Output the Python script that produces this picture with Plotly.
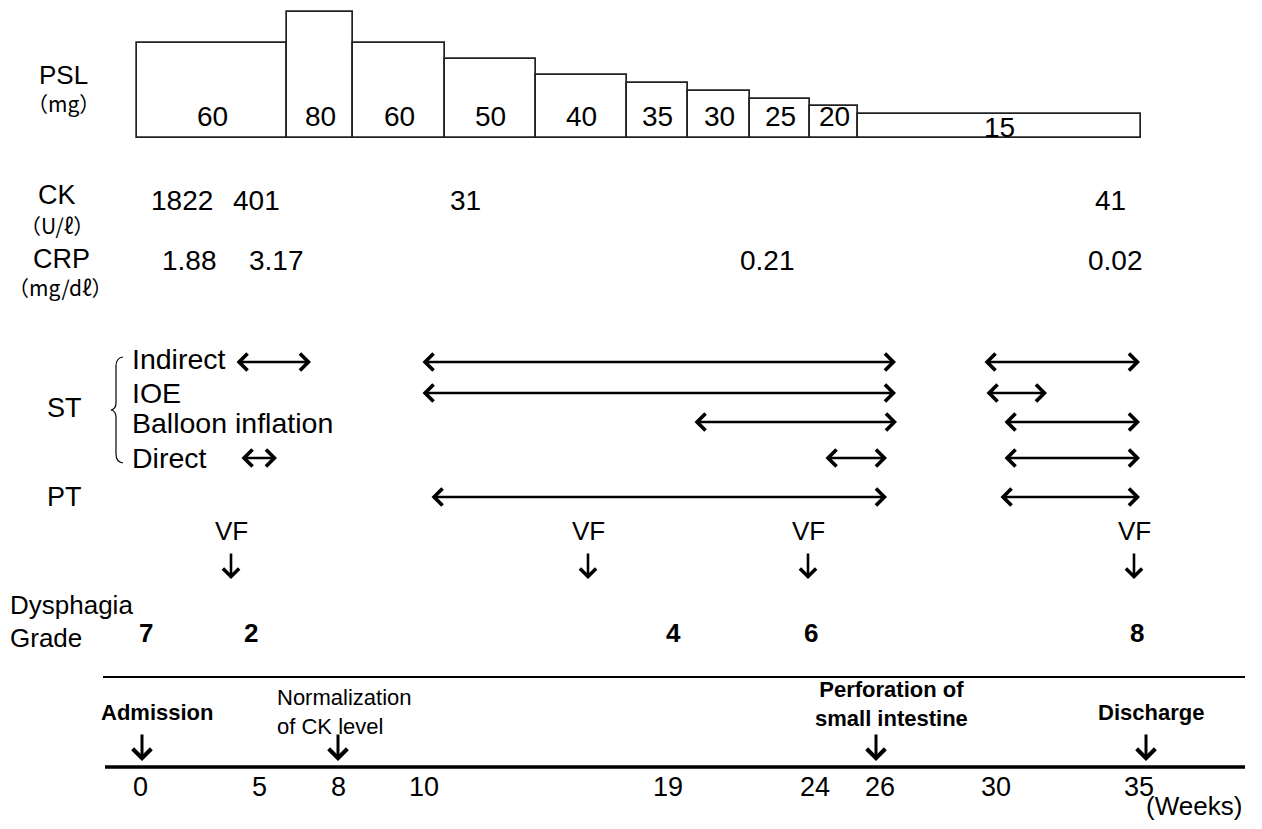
import plotly.graph_objects as go

# ---------------- data ----------------
# PSL doses and the timeline edges (diagram time axis units) of each dose period
psl_dose = [60, 80, 60, 50, 40, 35, 30, 25, 20, 15]
psl_edges = [137, 287, 353, 445, 536, 627, 688, 750, 810, 858, 1141]

ck_values = ["1822", "401", "31", "41"]
ck_time = [182, 256, 465, 1110]
crp_values = ["1.88", "3.17", "0.21", "0.02"]
crp_time = [189, 276, 767, 1115]

st_rows = ["Indirect", "IOE", "Balloon inflation", "Direct"]
indirect_periods = [(235, 311), (421, 896), (983, 1140)]
ioe_periods = [(421, 896), (985, 1047)]
balloon_periods = [(693, 897), (1003, 1140)]
direct_periods = [(240, 277), (824, 887), (1003, 1140)]
pt_periods = [(430, 887), (999, 1140)]

vf_time = [231, 588, 808, 1134]

grade_values = ["7", "2", "4", "6", "8"]
grade_time = [146, 251, 673, 811, 1137]

event_labels = ["<b>Admission</b>", "Normalization<br>of CK level",
                "<b>Perforation of<br>small intestine</b>", "<b>Discharge</b>"]
event_time = [142, 338, 876, 1146]

week_labels = ["0", "5", "8", "10", "19", "24", "26", "30", "35"]
week_time = [140, 259, 338, 424, 668, 815, 880, 996, 1139]

# ---------------- layout constants ----------------
W, H = 1262, 829
PAGE_MARGIN = 8          # default body margin of the html page
FIG_W, FIG_H = W - 2 * PAGE_MARGIN, H - 2 * PAGE_MARGIN
FONT = "Liberation Sans, Arial, sans-serif"
CJK = "Noto Sans CJK JP, Noto Sans, sans-serif"
BAR_BASE_PX = 138
PX_PER_MG = 1.58

fig = go.Figure()

# PSL bars
centers = [(a + b) / 2 for a, b in zip(psl_edges[:-1], psl_edges[1:])]
widths = [b - a for a, b in zip(psl_edges[:-1], psl_edges[1:])]
fig.add_trace(go.Bar(x=centers, y=psl_dose, width=widths, xaxis="x", yaxis="y2",
                     marker=dict(color="white", line=dict(color="#222", width=1.7)),
                     hoverinfo="skip", showlegend=False))

ann = []
def txt(x, y, s, size=28, bold=False, anchor="center", family=FONT, **kw):
    ann.append(dict(x=x, y=y, xref="x", yref="y", text=("<b>%s</b>" % s) if bold else s,
                    showarrow=False, xanchor=anchor, yanchor="middle",
                    font=dict(family=family, size=size, color="black"), **kw))

# bar labels
for c, d in zip(centers, psl_dose):
    txt(c, 127 if d * PX_PER_MG < 30 else 116, str(d), size=28)

# row titles
txt(63, 75, "PSL", size=26)
txt(63, 103, "（mg）", size=21, family=CJK)
txt(57, 195, "CK", size=27)
txt(57, 225, "（U/ℓ）", size=21, family=CJK)
txt(61, 259, "CRP", size=27)
txt(60, 287, "（mg/dℓ）", size=21, family=CJK)
txt(64, 408, "ST", size=27)
txt(64, 497, "PT", size=27)

for v, t in zip(ck_values, ck_time):
    txt(t, 200, v, size=28)
for v, t in zip(crp_values, crp_time):
    txt(t, 260, v, size=28)

row_y = [359, 393, 423, 458]
for name, y in zip(st_rows, row_y):
    txt(130, y, name, size=28.5, anchor="left")

# therapy arrows
def dbl(a, b, y):
    ann.append(dict(x=b, y=y, ax=a, ay=y, xref="x", yref="y", axref="x", ayref="y",
                    text="", showarrow=True, arrowside="end+start",
                    arrowhead=4, startarrowhead=4, arrowsize=1.25, startarrowsize=1.25,
                    arrowwidth=2.6, arrowcolor="black"))

arrow_rows = [(indirect_periods, 362), (ioe_periods, 393), (balloon_periods, 422),
              (direct_periods, 458), (pt_periods, 497)]
for periods, y in arrow_rows:
    for a, b in periods:
        dbl(a, b, y)

def down(x, y0, y1, w=2.8):
    ann.append(dict(x=x, y=y1, ax=x, ay=y0, xref="x", yref="y", axref="x", ayref="y",
                    text="", showarrow=True, arrowhead=4, arrowsize=1.2,
                    arrowwidth=w, arrowcolor="black"))

# VF
for t in vf_time:
    txt(t, 531, "VF", size=26)
    down(t, 552, 579, w=2.6)

# dysphagia grade
txt(8, 605, "Dysphagia", size=26, anchor="left")
txt(8, 638, "Grade", size=26, anchor="left")
for v, t in zip(grade_values, grade_time):
    txt(t, 633, v, size=26, bold=True)

# events
ev_text_pos = [(157, 712, "center"), (275, 712, "left"), (891, 704, "center"), (1151, 712, "center")]
for lab, t, (x, y, anc) in zip(event_labels, event_time, ev_text_pos):
    txt(x, y, lab, size=22, anchor=anc, align=anc if anc == "left" else "center")
    down(t, 733, 761, w=3.0)

# weeks axis labels
for v, t in zip(week_labels, week_time):
    txt(t, 787, v, size=27)
txt(1194, 806, "(Weeks)", size=26)

shapes = [
    dict(type="line", xref="x", yref="y", x0=103, x1=1245, y0=677, y1=677,
         line=dict(color="black", width=2)),
    dict(type="line", xref="x", yref="y", x0=105, x1=1245, y0=767, y1=767,
         line=dict(color="black", width=3.5)),
    dict(type="path", xref="x", yref="y",
         path="M 123 357 Q 116 358 116 366 L 116 403 Q 116 409 111 410 "
              "Q 116 411 116 417 L 116 454 Q 116 462 123 463",
         line=dict(color="black", width=1.2)),
]

# data coordinates equal screen pixels of the page
x_range = [PAGE_MARGIN, PAGE_MARGIN + FIG_W]
y_range = [PAGE_MARGIN + FIG_H, PAGE_MARGIN]
bar_dom_bottom = (PAGE_MARGIN + FIG_H - BAR_BASE_PX) / FIG_H

fig.update_layout(
    width=FIG_W, height=FIG_H, margin=dict(l=0, r=0, t=0, b=0),
    paper_bgcolor="white", plot_bgcolor="white",
    xaxis=dict(range=x_range, visible=False, fixedrange=True),
    yaxis=dict(range=y_range, visible=False, fixedrange=True, domain=[0, 1]),
    yaxis2=dict(range=[0, (BAR_BASE_PX - PAGE_MARGIN) / PX_PER_MG], visible=False,
                domain=[bar_dom_bottom, 1], anchor="x"),
    annotations=ann, shapes=shapes, bargap=0, showlegend=False,
)

fig.write_html("out.html")
